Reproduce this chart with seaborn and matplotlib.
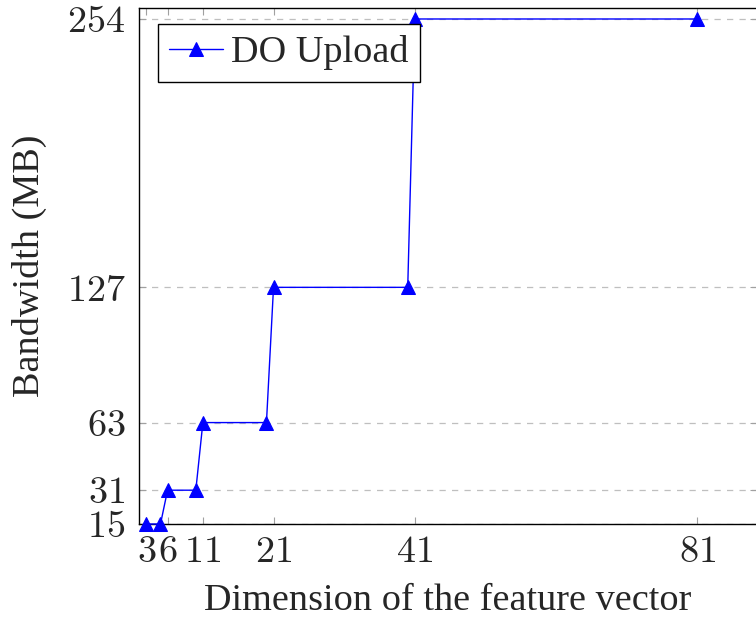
import matplotlib
matplotlib.use("Agg")
import matplotlib.pyplot as plt
import seaborn as sns
import pandas as pd

dims = [3, 5, 6, 10, 11, 20, 21, 40, 41, 81]
bandwidth = [15, 15, 31, 31, 63, 63, 127, 127, 254, 254]
xticks = [3, 6, 11, 21, 41, 81]
yticks = [15, 31, 63, 127, 254]
series_name = "DO Upload"

sns.set_theme(style="white")
plt.rcParams["font.family"] = ["Liberation Serif", "DejaVu Serif"]
plt.rcParams["mathtext.fontset"] = "cm"

FS = 27.5

df = pd.DataFrame({"dim": dims, "bw": bandwidth})

fig = plt.figure(figsize=(7.56, 6.22), dpi=100)
ax = fig.add_axes([139.3 / 756, 98 / 622, (757 - 139.3) / 756, 516 / 622])

sns.lineplot(data=df, x="dim", y="bw", ax=ax, color="blue", marker="^",
             markersize=10, markeredgecolor="blue", linewidth=1.0,
             label=series_name, zorder=3, clip_on=False)

ax.set_xlim(2, 2 + (757 - 139.3) / 7.064)
ax.set_ylim(15, 259.2)
ax.set_xticks(xticks)
ax.set_xticklabels([f"${v}$" for v in xticks])
ax.set_yticks(yticks)
ax.set_yticklabels([f"${v}$" for v in yticks])

ax.yaxis.grid(True, color="#bfbfbf", linestyle=(0, (5, 5)), linewidth=0.9)
ax.xaxis.grid(False)
ax.set_axisbelow(True)

ax.tick_params(axis="x", which="both", direction="in", top=True, bottom=True,
               length=5, width=0.8, color="#a0a0a0", labelsize=FS, pad=8)
ax.tick_params(axis="y", which="both", direction="in", left=True, right=True,
               length=5, width=0.8, color="#a0a0a0", labelsize=FS, pad=10)

for s in ax.spines.values():
    s.set_color("black")
    s.set_linewidth(1.0)

ax.set_xlabel("Dimension of the feature vector", fontsize=FS, labelpad=10)
ax.set_ylabel("Bandwidth (MB)", fontsize=FS, labelpad=14)

leg = ax.legend(loc="upper left", bbox_to_anchor=(158 / 756, 1 - 24 / 622),
                bbox_transform=fig.transFigure, fontsize=FS, frameon=True,
                fancybox=False, framealpha=1, edgecolor="black",
                borderpad=0.3, handlelength=1.4, handletextpad=0.2,
                borderaxespad=0)
leg.get_frame().set_linewidth(1.0)

fig.savefig("out.png", dpi=100)
